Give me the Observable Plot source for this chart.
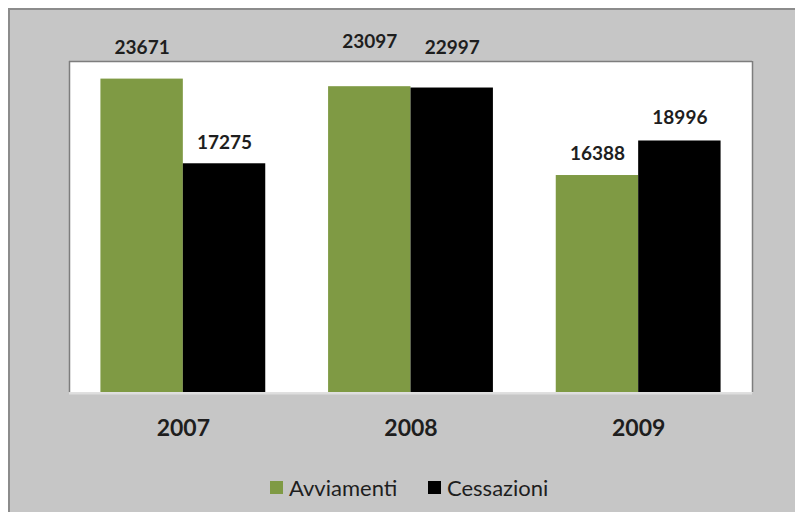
<!DOCTYPE html>
<html>
<head>
<meta charset="utf-8">
<script src="https://cdn.jsdelivr.net/npm/d3@7"></script>
<script src="https://cdn.jsdelivr.net/npm/@observablehq/plot@0.6"></script>
<style>
  html, body { margin: 0; padding: 0; background: #ffffff; }
  body { width: 795px; height: 512px; position: relative; overflow: hidden; font-family: Lato, "Open Sans", sans-serif; }
  #panel {
    position: absolute; left: 8px; top: 8px; right: -4px; bottom: -4px;
    background: #c6c6c6;
    border-top: 2px solid #8c8c8c;
    border-left: 2px solid #8c8c8c;
  }
  #chart { position: absolute; left: 0; top: 0; }
  #legend { position: absolute; left: 0; top: 474px; width: 795px; height: 26px; }
  .item { position: absolute; top: 0; height: 26px; display: flex; align-items: center; gap: 6px;
          font-size: 22px; color: #1e1e1e; }
  .swatch { width: 13px; height: 13px; display: inline-block; }
</style>
</head>
<body>
<div id="panel"></div>
<div id="chart"></div>
<div id="legend"></div>
<script>
// Avviamenti e cessazioni per anno
const years = [2007, 2008, 2009];
const seriesNames = ["Avviamenti", "Cessazioni"];
const avviamenti = [23671, 23097, 16388];
const cessazioni = [17275, 22997, 18996];

const colors = { Avviamenti: "#7f9a44", Cessazioni: "#000000" };

// each bar takes this fraction of one year slot; the pair sits side by side
const barSpan = 0.362;

const rows = [];
years.forEach((year, i) => {
  rows.push({ year, series: seriesNames[0], value: avviamenti[i], x1: year - barSpan, x2: year });
  rows.push({ year, series: seriesNames[1], value: cessazioni[i], x1: year, x2: year + barSpan });
});

// vertical lift of each value label above its bar (px)
const lift = {
  "2007 Avviamenti": 31, "2007 Cessazioni": 21,
  "2008 Avviamenti": 45, "2008 Cessazioni": 40,
  "2009 Avviamenti": 22, "2009 Cessazioni": 23
};

const labelMarks = rows.map(r =>
  Plot.text([r], {
    x: d => (d.x1 + d.x2) / 2,
    y: "value",
    text: d => String(d.value),
    dy: -lift[`${r.year} ${r.series}`],
    fontSize: 19,
    fontWeight: "bold",
    fill: "#1e1e1e"
  })
);

const chart = Plot.plot({
  width: 795,
  height: 460,
  marginTop: 61,
  marginLeft: 69,
  marginRight: 43,
  marginBottom: 68,
  style: { fontFamily: "Lato, 'Open Sans', sans-serif", fontSize: "23px", fontWeight: "bold", color: "#1e1e1e", background: "transparent" },
  x: { domain: [years[0] - 0.5, years[years.length - 1] + 0.5], ticks: years, tickFormat: d => String(d), tickSize: 0, tickPadding: 27, label: null },
  y: { domain: [0, 25000], axis: null },
  marks: [
    Plot.frame({ fill: "#ffffff", stroke: null }),
    Plot.ruleY([0], { stroke: "#dedede", strokeWidth: 2, dy: 1 }),
    Plot.rectY(rows, { x1: "x1", x2: "x2", y: "value", fill: d => colors[d.series] }),
    Plot.ruleX([years[0] - 0.5, years[years.length - 1] + 0.5], { stroke: "#7d7d7d", strokeWidth: 1.5 }),
    Plot.ruleY([25000], { stroke: "#7d7d7d", strokeWidth: 1.5 }),
    ...labelMarks
  ]
});
document.getElementById("chart").appendChild(chart);

// legend below the chart
const legend = document.getElementById("legend");
const legendLeft = { Avviamenti: 270, Cessazioni: 428 };
seriesNames.forEach(name => {
  const item = document.createElement("div");
  item.className = "item";
  item.style.left = legendLeft[name] + "px";
  const sw = document.createElement("span");
  sw.className = "swatch";
  sw.style.background = colors[name];
  const label = document.createElement("span");
  label.textContent = name;
  item.appendChild(sw);
  item.appendChild(label);
  legend.appendChild(item);
});
</script>
</body>
</html>
